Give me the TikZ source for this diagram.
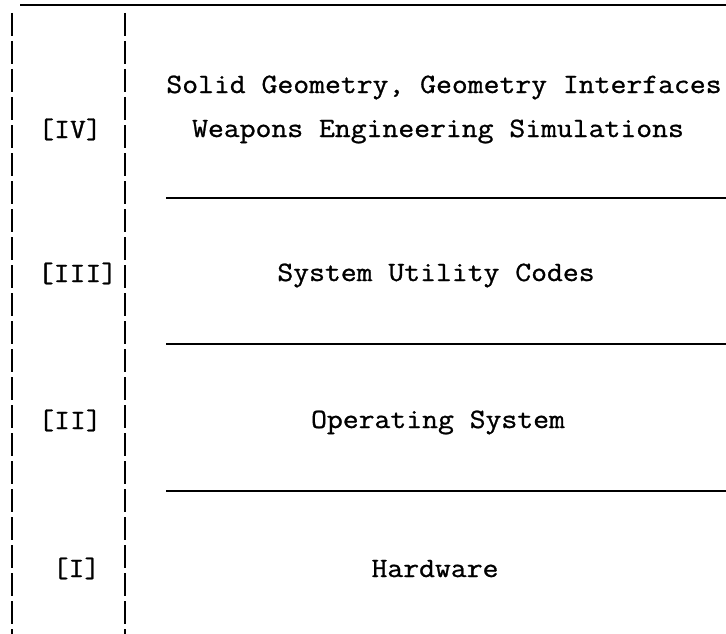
\documentclass[tikz,border=0pt]{standalone}
\usepackage{fontspec}
\newfontfamily\typewriter{Latin Modern Mono}[FakeBold=0.9]
\begin{document}
\begin{tikzpicture}[x=1pt,y=-1pt,
  txt/.style={font=\typewriter\fontsize{28}{32}\selectfont, inner sep=0pt, anchor=base},
  rule/.style={line width=1.8pt},
  side/.style={line width=1.8pt, dash pattern=on 23pt off 5pt}]
\useasboundingbox (0,0) rectangle (726,634);
\newcommand\wide[1]{\scalebox{1.1}[1]{#1}}
% frame: top rule and dashed column borders
\coordinate (tl) at (20,5);
\coordinate (tr) at (726,5);
\draw[rule] (tl) -- (tr);
\coordinate (l1) at (12,13);
\coordinate (l2) at (12,634);
\coordinate (r1) at (125,13);
\coordinate (r2) at (125,634);
\draw[side] (l1) -- (l2);
\draw[side] (r1) -- (r2);
% layer separators
\foreach \y/\n in {198/a,344/b,491/c}{
  \coordinate (s\n1) at (166,\y);
  \coordinate (s\n2) at (726,\y);
  \draw[rule] (s\n1) -- (s\n2);
}
% layer contents
\node[txt] (l4a) at (444,93) {\wide{Solid Geometry, Geometry Interfaces}};
\node[txt] (l4b) at (438,137) {\wide{Weapons Engineering Simulations}};
\node[txt] (l3) at (436,281) {\wide{System Utility Codes}};
\node[txt] (l2t) at (438,428) {\wide{Operating System}};
\node[txt] (l1t) at (435,577) {\wide{Hardware}};
% layer numbers
\node[txt] (n4) at (70,138) {\wide{[IV]}};
\node[txt] (n3) at (77.5,282) {\wide{[III]}};
\node[txt] (n2) at (70,429) {\wide{[II]}};
\node[txt] (n1) at (76.5,577) {\wide{[I]}};
\end{tikzpicture}
\end{document}
